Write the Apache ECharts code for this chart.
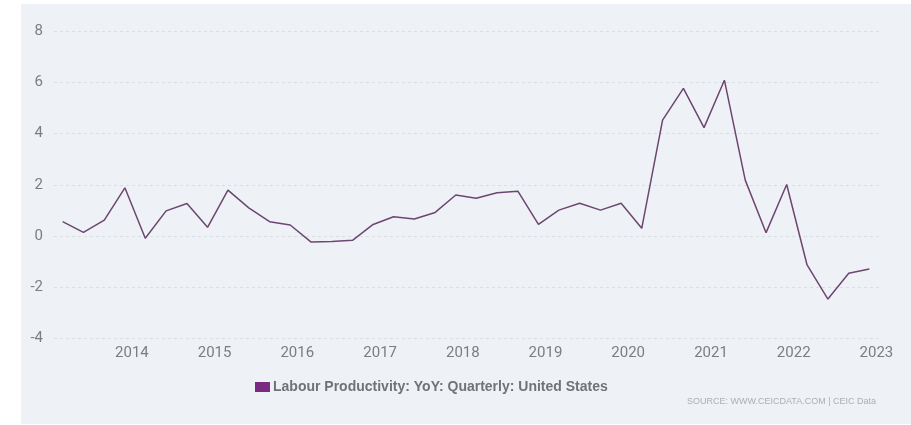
<!DOCTYPE html>
<html>
<head>
<meta charset="utf-8">
<script src="https://cdn.jsdelivr.net/npm/echarts@6/dist/echarts.min.js"></script>
<style>
html,body{margin:0;padding:0;background:#fff;}
#chart{width:911px;height:425px;}
</style>
</head>
<body>
<div id="chart"></div>
<script>
var dates = [
 '2013-03-01','2013-06-01','2013-09-01','2013-12-01',
 '2014-03-01','2014-06-01','2014-09-01','2014-12-01',
 '2015-03-01','2015-06-01','2015-09-01','2015-12-01',
 '2016-03-01','2016-06-01','2016-09-01','2016-12-01',
 '2017-03-01','2017-06-01','2017-09-01','2017-12-01',
 '2018-03-01','2018-06-01','2018-09-01','2018-12-01',
 '2019-03-01','2019-06-01','2019-09-01','2019-12-01',
 '2020-03-01','2020-06-01','2020-09-01','2020-12-01',
 '2021-03-01','2021-06-01','2021-09-01','2021-12-01',
 '2022-03-01','2022-06-01','2022-09-01','2022-12-01'
];
var values = [
 0.56, 0.14, 0.62, 1.88,
 -0.09, 0.98, 1.27, 0.34,
 1.79, 1.10, 0.56, 0.43,
 -0.23, -0.21, -0.17, 0.45,
 0.75, 0.66, 0.92, 1.60,
 1.47, 1.69, 1.75, 0.45,
 1.01, 1.28, 1.01, 1.28,
 0.30, 4.52, 5.76, 4.23,
 6.08, 2.18, 0.13, 2.01,
 -1.13, -2.46, -1.45, -1.29
];
var seriesName = 'Labour Productivity: YoY: Quarterly: United States';
var sourceText = 'SOURCE: WWW.CEICDATA.COM | CEIC Data';
var yTicks = { min: -4, max: 8, interval: 2 };

var YEAR_MS = 365 * 24 * 3600 * 1000;
var chart = echarts.init(document.getElementById('chart'));
var data = dates.map(function(d, i){ return [d, values[i]]; });

chart.setOption({
  backgroundColor: '#ffffff',
  animation: false,
  graphic: [
    { type: 'rect', z: -100, silent: true,
      shape: { x: 21, y: 4, width: 890, height: 420 },
      style: { fill: '#eef2f6' } },
    { type: 'text', silent: true,
      style: { text: sourceText, x: 876, y: 402, align: 'right', verticalAlign: 'middle',
               fill: '#abafb5', font: '9px "Liberation Sans", Arial, sans-serif' } }
  ],
  grid: { left: 54, right: 31, top: 31, bottom: 86.5, containLabel: false },
  legend: {
    data: [seriesName],
    left: 255, top: 380, padding: 0,
    icon: 'rect', itemWidth: 15, itemHeight: 10, itemGap: 4,
    textStyle: { color: '#6f7378', fontSize: 14, fontWeight: 'bold',
                 fontFamily: '"Liberation Sans", Arial, sans-serif', padding: [0,0,0,-2] }
  },
  xAxis: {
    type: 'time',
    min: '2013-01-22',
    max: '2023-01-17',
    splitNumber: 10,
    minInterval: YEAR_MS,
    maxInterval: YEAR_MS + 24 * 3600 * 1000,
    axisLine: { show: false },
    axisTick: { show: false },
    splitLine: { show: false },
    axisLabel: {
      color: '#7a7e83', fontSize: 15, fontFamily: 'Roboto, sans-serif', margin: 7,
      hideOverlap: false, interval: 0,
      showMinLabel: false, showMaxLabel: false,
      formatter: function (val) {
        var d = new Date(val);
        if (d.getMonth() === 0 && d.getDate() === 1) return String(d.getFullYear());
        return '';
      }
    }
  },
  yAxis: {
    type: 'value',
    min: yTicks.min, max: yTicks.max, interval: yTicks.interval,
    axisLine: { show: false },
    axisTick: { show: false },
    axisLabel: { color: '#7a7e83', fontSize: 15, fontFamily: 'Roboto, sans-serif', margin: 11 },
    splitLine: { show: true, lineStyle: { color: '#dadee3', type: [3, 3], width: 1 } }
  },
  series: [{
    name: seriesName,
    type: 'line',
    data: data,
    showSymbol: false,
    symbol: 'none',
    color: '#7b2a82',
    lineStyle: { color: '#6d4670', width: 1.5 }
  }]
});
</script>
</body>
</html>
